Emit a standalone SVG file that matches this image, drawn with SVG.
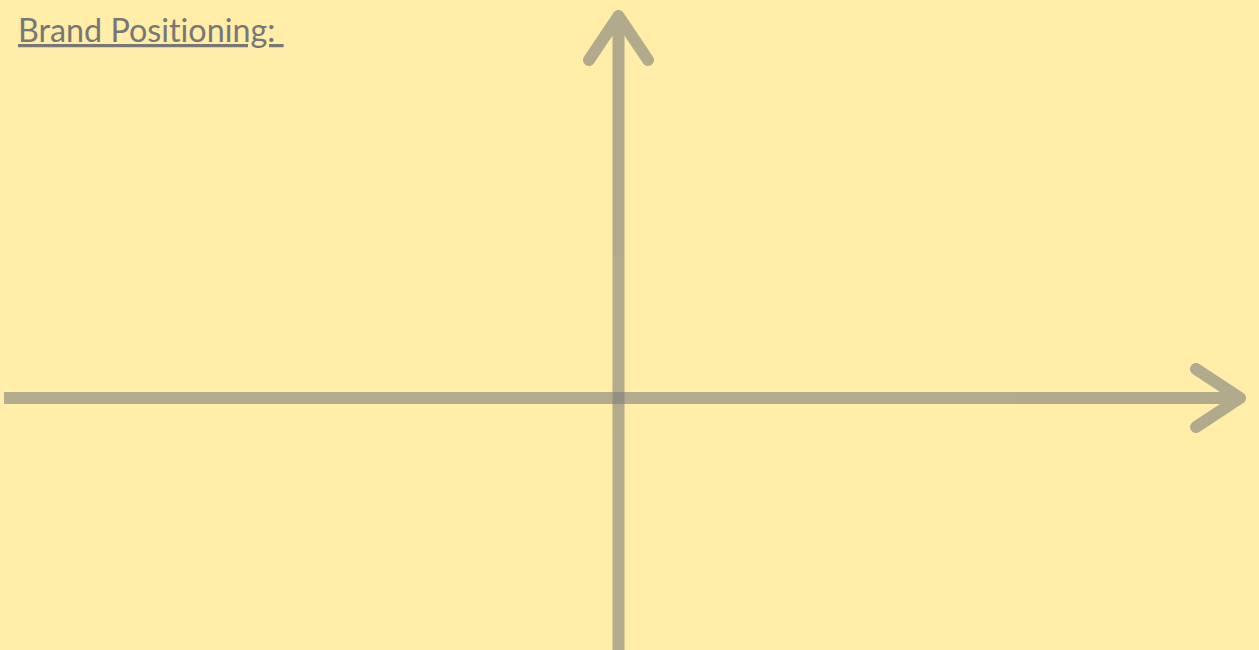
<svg xmlns="http://www.w3.org/2000/svg" width="1259" height="650" viewBox="0 0 1259 650">
<style>
.ax{opacity:0.6}
.ax path{fill:none;stroke:#7f7f7a;stroke-width:12;stroke-linejoin:round}
.cap-r{stroke-linecap:round}
.cap-b{stroke-linecap:butt}
.title{font-family:Lato,"Liberation Sans",sans-serif;font-size:32.3px;fill:#777777;text-decoration:underline;white-space:pre;font-variant-ligatures:none;font-feature-settings:"liga" 0}
</style>
<rect width="1259" height="650" fill="#FFEDA8"/>
<g id="connectors">
<g class="ax">
<path class="cap-b" d="M4,398 H1238"/>
<path class="cap-r" d="M1196,369 L1240,398 L1196,427"/>
</g>
<g class="ax">
<path class="cap-b" d="M618.5,650 V20"/>
<path class="cap-r" d="M589,60 L618.5,16 L648,60"/>
</g>
</g>
<g id="title">
<text class="title" x="18" y="42" xml:space="preserve">Brand Positioning: </text>
</g>
</svg>
